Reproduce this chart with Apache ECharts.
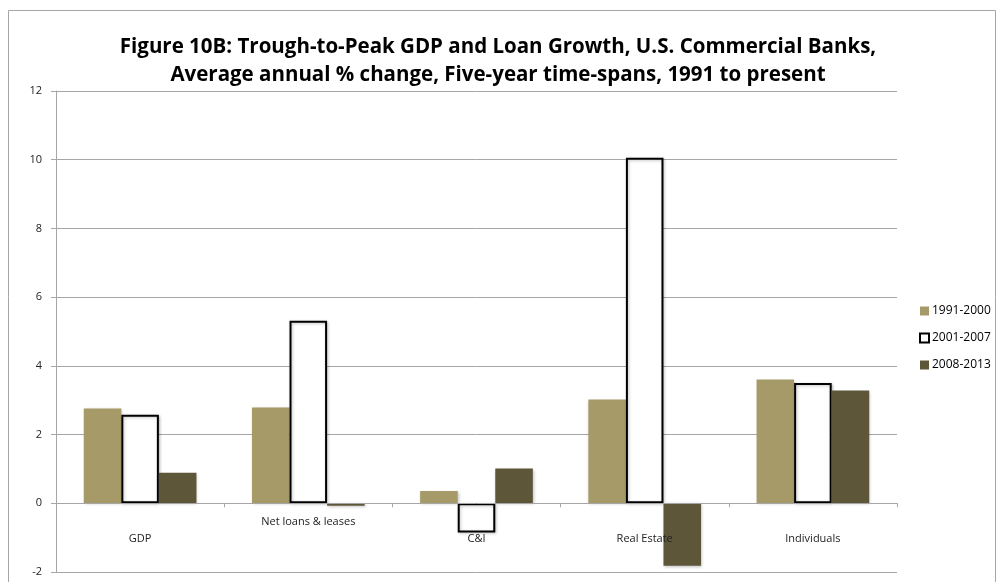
<!DOCTYPE html>
<html><head><meta charset="utf-8">
<script src="https://cdn.jsdelivr.net/npm/echarts@6/dist/echarts.min.js"></script>
<style>html,body{margin:0;padding:0;background:#fff}#c{width:1001px;height:582px}</style>
</head><body><div id="c"></div>
<script>
const categories = ['GDP', 'Net loans & leases', 'C&I', 'Real Estate', 'Individuals'];
const s1991 = [2.76, 2.79, 0.36, 3.02, 3.60];
const s2001 = [2.58, 5.31, -0.85, 10.06, 3.50];
const s2008 = [0.89, -0.07, 1.01, -1.82, 3.28];
const seriesNames = ['1991-2000', '2001-2007', '2008-2013'];
const yTicks = [-2, 0, 2, 4, 6, 8, 10, 12];

const chart = echarts.init(document.getElementById('c'));
const shadow = {shadowBlur: 3, shadowOffsetX: 1, shadowOffsetY: 1, shadowColor: 'rgba(0,0,0,0.25)'};
chart.setOption({
  animation: false,
  graphic: [{type: 'rect', shape: {x: 8.5, y: 10.5, width: 987, height: 600},
    style: {fill: 'none', stroke: '#a6a6a6', lineWidth: 1}, z: -1}],
  title: {
    text: 'Figure 10B: Trough-to-Peak GDP and Loan Growth, U.S. Commercial Banks,\nAverage annual % change, Five-year time-spans, 1991 to present',
    left: 493, textAlign: 'center', top: 28,
    textStyle: {fontFamily: 'Open Sans', fontWeight: 'bold', fontSize: 20.5, lineHeight: 28, color: '#000'}
  },
  legend: {
    orient: 'vertical', left: 914, top: 300, itemGap: 15, itemWidth: 9, itemHeight: 9,
    textStyle: {fontFamily: 'Open Sans', fontSize: 12, color: '#000', padding: [0,0,0,-2]},
    data: [
      {name: seriesNames[0], icon: 'rect'},
      {name: seriesNames[1], icon: 'rect', itemStyle: {color: '#fff', borderColor: '#000', borderWidth: 2}},
      {name: seriesNames[2], icon: 'rect'}
    ]
  },
  grid: {left: 56, right: 104, top: 91, bottom: 10, outerBoundsMode: 'none', containLabel: false},
  xAxis: {
    type: 'category', data: categories, z: 5,
    axisLine: {onZero: true, lineStyle: {color: '#a6a6a6'}},
    axisTick: {show: true, length: 4, lineStyle: {color: '#a6a6a6'}},
    axisLabel: {
      interval: 0, margin: -56,
      fontFamily: 'Open Sans', fontSize: 11, color: '#222',
      formatter: function (v) { return v === 'Net loans & leases' ? '{up|' + v + '}' : '{low|' + v + '}'; },
      rich: {
        up: {fontFamily: 'Open Sans', fontSize: 11, color: '#222'},
        low: {fontFamily: 'Open Sans', fontSize: 11, color: '#222', padding: [17, 0, 0, 0]}
      }
    }
  },
  yAxis: {
    type: 'value', min: yTicks[0], max: yTicks[yTicks.length - 1], interval: 2,
    axisLine: {show: true, lineStyle: {color: '#a6a6a6'}},
    axisTick: {show: true, length: 5, lineStyle: {color: '#a6a6a6'}},
    axisLabel: {fontFamily: 'Open Sans', fontSize: 11, color: '#222', margin: 14},
    splitLine: {lineStyle: {color: '#a6a6a6', width: 1}}
  },
  series: [
    {name: seriesNames[0], type: 'bar', data: s1991, barGap: '0%', barCategoryGap: '33%',
      itemStyle: Object.assign({color: '#a59a68'}, shadow)},
    {name: seriesNames[1], type: 'bar', data: s2001, barGap: '0%', barCategoryGap: '33%',
      itemStyle: Object.assign({color: '#fff', borderColor: '#000', borderWidth: 2}, shadow)},
    {name: seriesNames[2], type: 'bar', data: s2008, barGap: '0%', barCategoryGap: '33%',
      itemStyle: Object.assign({color: '#5e5639'}, shadow)}
  ]
});
</script></body></html>
